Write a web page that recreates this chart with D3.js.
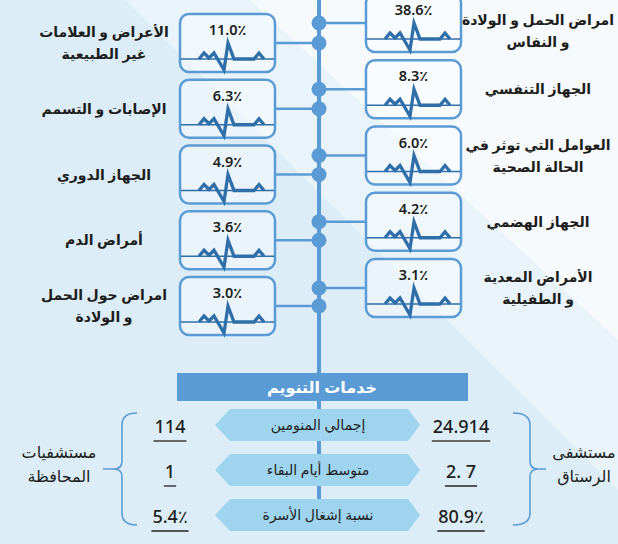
<!DOCTYPE html>
<html lang="ar">
<head>
<meta charset="utf-8">
<script src="https://cdn.jsdelivr.net/npm/d3@7"></script>
<style>
  html, body { margin: 0; padding: 0; background: #dcedf7; }
  svg { display: block; font-family: "Noto Sans", "DejaVu Sans", sans-serif; }
</style>
</head>
<body>
<div id="chart"></div>
<script>
// chart values
var rightLabels = [
  ["امراض الحمل و الولادة", "و النفاس"],
  ["الجهاز التنفسي"],
  ["العوامل التي توثر في", "الحالة الصحية"],
  ["الجهاز الهضمي"],
  ["الأمراض المعدية", "و الطفيلية"]
];
var rightValues = [38.6, 8.3, 6.0, 4.2, 3.1];

var leftLabels = [
  ["الأعراض و العلامات", "غير الطبيعية"],
  ["الإصابات و التسمم"],
  ["الجهاز الدوري"],
  ["أمراض الدم"],
  ["امراض حول الحمل", "و الولادة"]
];
var leftValues = [11.0, 6.3, 4.9, 3.6, 3.0];

var bannerTitle = "خدمات التنويم";
var serviceLabels = ["إجمالي المنومين", "متوسط أيام البقاء", "نسبة إشغال الأسرة"];
var rustaqValues = ["24.914", "2. 7", "80.9٪"];
var governorateValues = ["114", "1", "5.4٪"];
var rustaqName = ["مستشفى", "الرستاق"];
var governorateName = ["مستشفيات", "المحافظة"];

// sizes
var svgWidth = 618;
var svgHeight = 544;
var spineX = 319;
var boxW = 95, boxH = 58;

var blue = "#5b9bd5";
var darkBlue = "#2f6ea8";
var ink = "#1d1d1b";

var svg = d3.select("#chart").append("svg")
  .attr("width", svgWidth)
  .attr("height", svgHeight);

// background diagonals
svg.append("rect").attr("width", svgWidth).attr("height", svgHeight).attr("fill", "#dcedf7");
svg.append("polygon")
  .attr("points", "125,0 618,0 618,490")
  .attr("fill", "#e8f3fa");
svg.append("polygon")
  .attr("points", "250,0 618,0 618,340")
  .attr("fill", "#f6fafd");

// vertical positions
var rightY = d3.scalePoint().domain(d3.range(rightValues.length)).range([23, 288]);
var leftY = d3.scalePoint().domain(d3.range(leftValues.length)).range([43, 306]);
var rowY = d3.scalePoint().domain(d3.range(serviceLabels.length)).range([425, 515]);

var fmt = function(v) { return d3.format(".1f")(v) + "٪"; };

// spine
svg.append("line")
  .attr("x1", spineX).attr("x2", spineX)
  .attr("y1", 0).attr("y2", 505)
  .attr("stroke", blue).attr("stroke-width", 4);

// heartbeat shape, offsets from box left / baseline
var beat = [[19, 0], [24, -6], [29, -1], [34, -6], [44, 11], [48, -16], [54, 0], [74, 0], [79, -6], [84, 0]];
var beatLine = d3.line();

function drawSide(values, labels, yScale, boxX, labelX) {
  var g = svg.append("g");

  // connectors
  g.selectAll(".conn").data(values).enter().append("line")
    .attr("x1", spineX)
    .attr("x2", boxX < spineX ? boxX + boxW : boxX)
    .attr("y1", (d, i) => yScale(i))
    .attr("y2", (d, i) => yScale(i))
    .attr("stroke", blue).attr("stroke-width", 2.5);

  var box = g.selectAll(".box").data(values).enter().append("g")
    .attr("transform", (d, i) => `translate(${boxX}, ${yScale(i) - boxH / 2})`);

  box.append("rect")
    .attr("width", boxW).attr("height", boxH)
    .attr("rx", 9)
    .attr("fill", "rgba(255,255,255,0.4)")
    .attr("stroke", blue).attr("stroke-width", 2.5);

  box.append("line")
    .attr("x1", 1).attr("x2", boxW - 1)
    .attr("y1", 45).attr("y2", 45)
    .attr("stroke", darkBlue).attr("stroke-width", 1.4);

  box.append("path")
    .attr("d", beatLine(beat.map(p => [p[0], 45 + p[1]])))
    .attr("fill", "none")
    .attr("stroke", darkBlue).attr("stroke-width", 3.3)
    .attr("stroke-linejoin", "miter");

  box.append("text")
    .attr("x", boxW / 2).attr("y", 21)
    .attr("text-anchor", "middle")
    .attr("font-size", 14.5).attr("font-weight", 600)
    .attr("fill", ink)
    .text(d => fmt(d));

  // labels
  var lab = g.selectAll(".lab").data(labels).enter().append("text")
    .attr("text-anchor", "middle")
    .attr("direction", "rtl")
    .attr("font-size", 14).attr("font-weight", 600)
    .attr("fill", ink)
    .attr("x", labelX)
    .attr("y", (d, i) => Math.max(yScale(i), 31) - (d.length - 1) * 11 + 5);

  lab.selectAll("tspan").data(d => d).enter().append("tspan")
    .attr("x", labelX)
    .attr("dy", (d, i) => i ? 22 : 0)
    .text(d => d);

  // dots
  svg.append("g").selectAll("circle").data(values).enter().append("circle")
    .attr("cx", spineX).attr("cy", (d, i) => yScale(i))
    .attr("r", 7.5).attr("fill", blue);
}

drawSide(rightValues, rightLabels, rightY, 366, 538);
drawSide(leftValues, leftLabels, leftY, 180, 104);

// banner
svg.append("rect")
  .attr("x", 177).attr("y", 373)
  .attr("width", 291).attr("height", 28)
  .attr("fill", blue);
svg.append("text")
  .attr("x", 322).attr("y", 393)
  .attr("text-anchor", "middle").attr("direction", "rtl")
  .attr("font-size", 16).attr("font-weight", 700)
  .attr("fill", "#ffffff")
  .text(bannerTitle);

// service arrows
var hex = function(cy) {
  return [[215, cy], [230, cy - 16], [408, cy - 16], [420, cy], [408, cy + 16], [230, cy + 16]];
};
svg.append("g").selectAll("polygon").data(serviceLabels).enter().append("polygon")
  .attr("points", (d, i) => hex(rowY(i)).join(" "))
  .attr("fill", "#9fd4ef");
svg.append("g").selectAll("text").data(serviceLabels).enter().append("text")
  .attr("x", 318).attr("y", (d, i) => rowY(i) + 5)
  .attr("text-anchor", "middle").attr("direction", "rtl")
  .attr("font-size", 14).attr("font-weight", 500)
  .attr("fill", ink)
  .text(d => d);

// underlined values
function drawValues(vals, cx) {
  var t = svg.append("g").selectAll("text").data(vals).enter().append("text")
    .attr("x", cx).attr("y", (d, i) => rowY(i) + 8)
    .attr("text-anchor", "middle")
    .attr("font-size", 18).attr("font-weight", 500)
    .attr("fill", ink)
    .text(d => d);
  t.each(function(d, i) {
    var w = this.getComputedTextLength();
    svg.append("line")
      .attr("x1", cx - w / 2 - 1).attr("x2", cx + w / 2 + 1)
      .attr("y1", rowY(i) + 16).attr("y2", rowY(i) + 16)
      .attr("stroke", i ? "#222" : "#666").attr("stroke-width", i ? 1.3 : 2);
  });
}
drawValues(rustaqValues, 461);
drawValues(governorateValues, 170);

// braces
function brace(x0, x1, tip, top, bottom, mid) {
  var s = Math.sign(x1 - x0);
  return `M${x0},${top} Q${x1},${top} ${x1},${top + 12} L${x1},${mid - 8} Q${x1},${mid} ${x1 + s * 8},${mid} L${tip},${mid}` +
    ` M${x1 + s * 8},${mid} Q${x1},${mid} ${x1},${mid + 8} L${x1},${bottom - 12} Q${x1},${bottom} ${x0},${bottom}`;
}
svg.append("path")
  .attr("d", brace(137, 122, 103, 413, 525, 469))
  .attr("fill", "none").attr("stroke", blue).attr("stroke-width", 1.6);
svg.append("path")
  .attr("d", brace(513, 530, 546, 413, 525, 469))
  .attr("fill", "none").attr("stroke", blue).attr("stroke-width", 1.6);

// hospital names
function drawName(lines, cx) {
  var t = svg.append("text")
    .attr("text-anchor", "middle").attr("direction", "rtl")
    .attr("font-size", 16).attr("font-weight", 500)
    .attr("fill", ink)
    .attr("y", 458);
  t.selectAll("tspan").data(lines).enter().append("tspan")
    .attr("x", cx)
    .attr("dy", (d, i) => i ? 24 : 0)
    .text(d => d);
}
drawName(governorateName, 59);
drawName(rustaqName, 584);
</script>
</body>
</html>
